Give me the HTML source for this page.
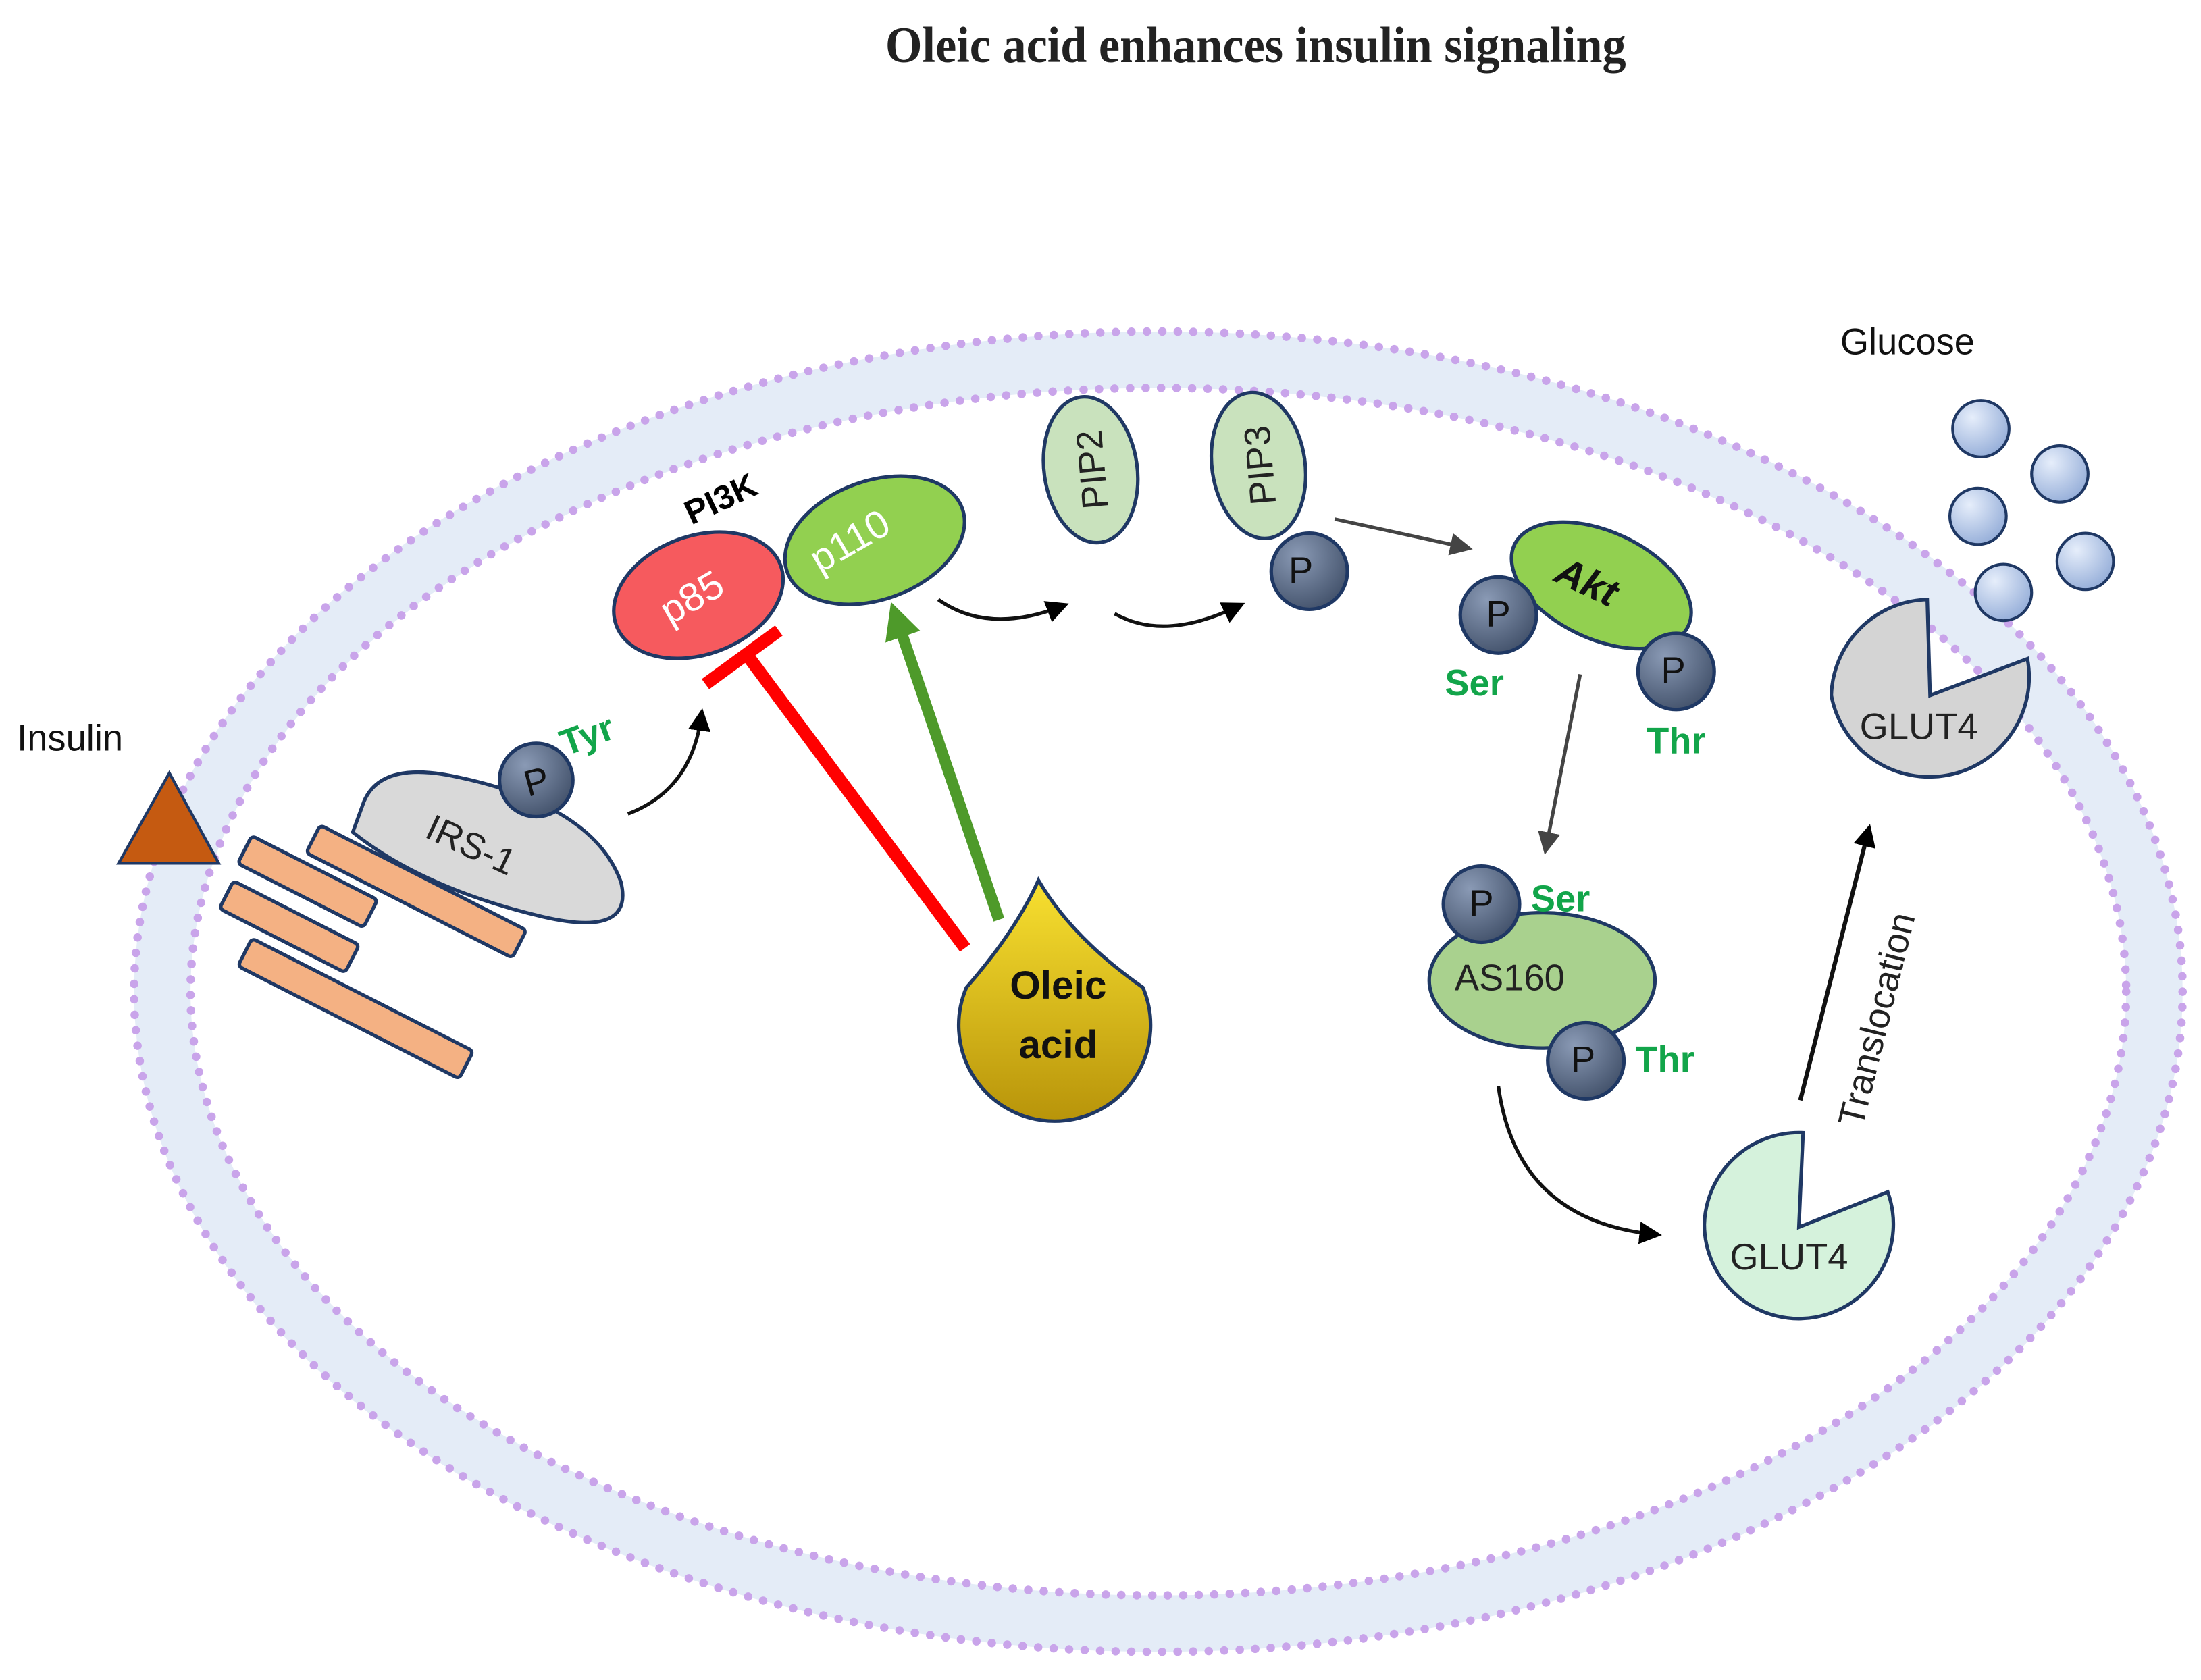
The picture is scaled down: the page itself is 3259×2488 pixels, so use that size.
<!DOCTYPE html>
<html><head><meta charset="utf-8"><style>html,body{margin:0;padding:0;background:#fff}svg{display:block}</style></head>
<body>
<svg width="3259" height="2488" viewBox="0 0 1560 1191" xmlns="http://www.w3.org/2000/svg" font-family="'Liberation Sans', sans-serif">
<defs>
<radialGradient id="pg" cx="0.35" cy="0.3" r="0.8"><stop offset="0" stop-color="#8a9ab5"/><stop offset="1" stop-color="#3e4d66"/></radialGradient>
<radialGradient id="gl" cx="0.35" cy="0.3" r="0.8"><stop offset="0" stop-color="#e6eefb"/><stop offset="1" stop-color="#8fa9d6"/></radialGradient>
<linearGradient id="og" x1="0" y1="0" x2="0" y2="1"><stop offset="0" stop-color="#f8e030"/><stop offset="1" stop-color="#b8940a"/></linearGradient>
<marker id="ahb" markerWidth="16" markerHeight="16" refX="10" refY="8" orient="auto" markerUnits="userSpaceOnUse" viewBox="0 0 16 16"><path d="M0,0 L16,8 L0,16 z" fill="#000"/></marker>
<marker id="ahg" markerWidth="16" markerHeight="16" refX="10" refY="8" orient="auto" markerUnits="userSpaceOnUse" viewBox="0 0 16 16"><path d="M0,0 L16,8 L0,16 z" fill="#444"/></marker>
<marker id="ahgr" markerWidth="26" markerHeight="26" refX="12" refY="13" orient="auto" markerUnits="userSpaceOnUse" viewBox="0 0 26 26"><path d="M0,0 L26,13 L0,26 z" fill="#4e9a2a"/></marker>
</defs>
<text x="890" y="44" text-anchor="middle" font-family="'Liberation Serif', serif" font-weight="bold" font-size="36" textLength="525" lengthAdjust="spacingAndGlyphs" fill="#222">Oleic acid enhances insulin signaling</text>

<ellipse cx="821" cy="703" rx="706" ry="448" fill="none" stroke="#e4ecf7" stroke-width="40"/>
<ellipse cx="821" cy="703" rx="726" ry="468" fill="none" stroke="#c9a4ea" stroke-width="6" stroke-linecap="round" stroke-dasharray="0 11"/>
<ellipse cx="821" cy="703" rx="686" ry="428" fill="none" stroke="#c9a4ea" stroke-width="6" stroke-linecap="round" stroke-dasharray="0 11"/>

<text x="12" y="532" font-size="26" fill="#111">Insulin</text>
<polygon points="84,612 155,612 120,548" fill="#c55a11" stroke="#1f3864" stroke-width="2"/>

<g fill="#f4b183" stroke="#1f3864" stroke-width="2.5">
<rect x="-82" y="-11" width="164" height="22" rx="3" transform="translate(295,632) rotate(27)"/>
<rect x="-50" y="-11" width="100" height="22" rx="3" transform="translate(218,625) rotate(27)"/>
<rect x="-50" y="-11" width="100" height="22" rx="3" transform="translate(205,657) rotate(27)"/>
<rect x="-88" y="-11" width="176" height="22" rx="3" transform="translate(252,715) rotate(27)"/>
</g>
<path d="M258,568 Q270,540 320,550 Q420,570 440,625 Q450,665 385,650 Q300,630 250,590 Z" fill="#d9d9d9" stroke="#1f3864" stroke-width="2.5"/>
<text x="0" y="0" font-size="26" fill="#222" transform="translate(300,593) rotate(25)">IRS-1</text>
<circle cx="380" cy="553" r="26" fill="url(#pg)" stroke="#1f3864" stroke-width="2.5"/>
<text x="380" y="563" text-anchor="middle" font-size="26" fill="#111" transform="rotate(-15 380 553)">P</text>
<text x="396" y="532" font-size="26" font-weight="bold" fill="#12a54a" transform="rotate(-20 410 520)">Tyr</text>
<path d="M445,577 Q490,560 497,508" fill="none" stroke="#111" stroke-width="2.5" marker-end="url(#ahb)"/>

<ellipse cx="495" cy="422" rx="62" ry="42" transform="rotate(-20 495 422)" fill="#f65a5e" stroke="#1f3864" stroke-width="2.5"/>
<ellipse cx="620" cy="383" rx="66" ry="42" transform="rotate(-20 620 383)" fill="#92d050" stroke="#1f3864" stroke-width="2.5"/>
<text x="490" y="433" text-anchor="middle" font-size="28" fill="#fff" transform="rotate(-30 490 423)">p85</text>
<text x="602" y="393" text-anchor="middle" font-size="28" fill="#fff" transform="rotate(-30 602 383)">p110</text>
<text x="510" y="362" text-anchor="middle" font-size="24" font-weight="bold" fill="#000" transform="rotate(-25 510 352)">PI3K</text>

<line x1="684" y1="672" x2="530" y2="465" stroke="#ff0000" stroke-width="9"/>
<line x1="500" y1="485" x2="552" y2="447" stroke="#ff0000" stroke-width="9"/>
<line x1="708" y1="652" x2="636" y2="440" stroke="#4e9a2a" stroke-width="8" marker-end="url(#ahgr)"/>

<path d="M736,624 Q760,665 810,700 A68,68 0 1 1 685,700 Q720,660 736,624 Z" fill="url(#og)" stroke="#1f3864" stroke-width="2.5"/>
<text x="750" y="708" text-anchor="middle" font-size="28" font-weight="bold" fill="#111">Oleic</text>
<text x="750" y="750" text-anchor="middle" font-size="28" font-weight="bold" fill="#111">acid</text>

<path d="M665,425 Q700,450 752,430" fill="none" stroke="#111" stroke-width="2.5" marker-end="url(#ahb)"/>
<ellipse cx="773" cy="333" rx="33" ry="52" transform="rotate(-8 773 333)" fill="#c9e2bd" stroke="#1f3864" stroke-width="2.5"/>
<text x="773" y="343" text-anchor="middle" font-size="26" fill="#222" transform="rotate(-95 773 333)">PIP2</text>
<path d="M790,435 Q825,455 877,430" fill="none" stroke="#111" stroke-width="2.5" marker-end="url(#ahb)"/>
<ellipse cx="892" cy="330" rx="33" ry="52" transform="rotate(-8 892 330)" fill="#c9e2bd" stroke="#1f3864" stroke-width="2.5"/>
<text x="892" y="340" text-anchor="middle" font-size="26" fill="#222" transform="rotate(-95 892 330)">PIP3</text>
<circle cx="928" cy="405" r="27" fill="url(#pg)" stroke="#1f3864" stroke-width="2.5"/>
<text x="922" y="413" text-anchor="middle" font-size="26" fill="#111">P</text>
<line x1="946" y1="368" x2="1038" y2="388" stroke="#444" stroke-width="2.5" marker-end="url(#ahg)"/>

<ellipse cx="1135" cy="415" rx="68" ry="38" transform="rotate(25 1135 415)" fill="#92d050" stroke="#1f3864" stroke-width="2.5"/>
<text x="1125" y="422" text-anchor="middle" font-size="28" font-weight="bold" font-style="italic" fill="#111" transform="rotate(25 1125 412)">Akt</text>
<circle cx="1062" cy="436" r="27" fill="url(#pg)" stroke="#1f3864" stroke-width="2.5"/>
<text x="1062" y="444" text-anchor="middle" font-size="26" fill="#111">P</text>
<circle cx="1188" cy="476" r="27" fill="url(#pg)" stroke="#1f3864" stroke-width="2.5"/>
<text x="1186" y="484" text-anchor="middle" font-size="26" fill="#111">P</text>
<text x="1045" y="493" text-anchor="middle" font-size="26" font-weight="bold" fill="#12a54a">Ser</text>
<text x="1188" y="534" text-anchor="middle" font-size="26" font-weight="bold" fill="#12a54a">Thr</text>
<line x1="1120" y1="478" x2="1096" y2="600" stroke="#444" stroke-width="2.5" marker-end="url(#ahg)"/>

<ellipse cx="1093" cy="695" rx="80" ry="48" fill="#a9d18e" stroke="#1f3864" stroke-width="2.5"/>
<text x="1070" y="702" text-anchor="middle" font-size="26" fill="#222">AS160</text>
<circle cx="1050" cy="641" r="27" fill="url(#pg)" stroke="#1f3864" stroke-width="2.5"/>
<text x="1050" y="649" text-anchor="middle" font-size="26" fill="#111">P</text>
<circle cx="1124" cy="752" r="27" fill="url(#pg)" stroke="#1f3864" stroke-width="2.5"/>
<text x="1122" y="760" text-anchor="middle" font-size="26" fill="#111">P</text>
<text x="1106" y="646" text-anchor="middle" font-size="26" font-weight="bold" fill="#12a54a">Ser</text>
<text x="1180" y="760" text-anchor="middle" font-size="26" font-weight="bold" fill="#12a54a">Thr</text>
<path d="M1062,770 Q1075,865 1172,875" fill="none" stroke="#111" stroke-width="2.5" marker-end="url(#ahb)"/>

<path d="M1275,870 L1278,803 A67,67 0 0 0 1208,868 A67,67 0 1 0 1338,845 Z" fill="#d5f2dc" stroke="#1f3864" stroke-width="2.5"/>
<text x="1268" y="900" text-anchor="middle" font-size="26" fill="#222">GLUT4</text>
<line x1="1276" y1="780" x2="1324" y2="590" stroke="#111" stroke-width="3" marker-end="url(#ahb)"/>
<text x="0" y="0" font-size="26" fill="#222" transform="translate(1320,800) rotate(-76)">Translocation</text>

<path d="M1368,493 L1366,425 A70,70 0 0 0 1298,493 A70,70 0 1 0 1437,467 Z" fill="#d4d4d4" stroke="#1f3864" stroke-width="2.5"/>
<text x="1360" y="524" text-anchor="middle" font-size="26" fill="#222">GLUT4</text>

<text x="1352" y="251" text-anchor="middle" font-size="26" fill="#111">Glucose</text>
<g fill="url(#gl)" stroke="#1f3864" stroke-width="2">
<circle cx="1404" cy="304" r="20"/><circle cx="1460" cy="336" r="20"/><circle cx="1402" cy="366" r="20"/><circle cx="1478" cy="398" r="20"/><circle cx="1420" cy="420" r="20"/>
</g>
</svg>
</body></html>
